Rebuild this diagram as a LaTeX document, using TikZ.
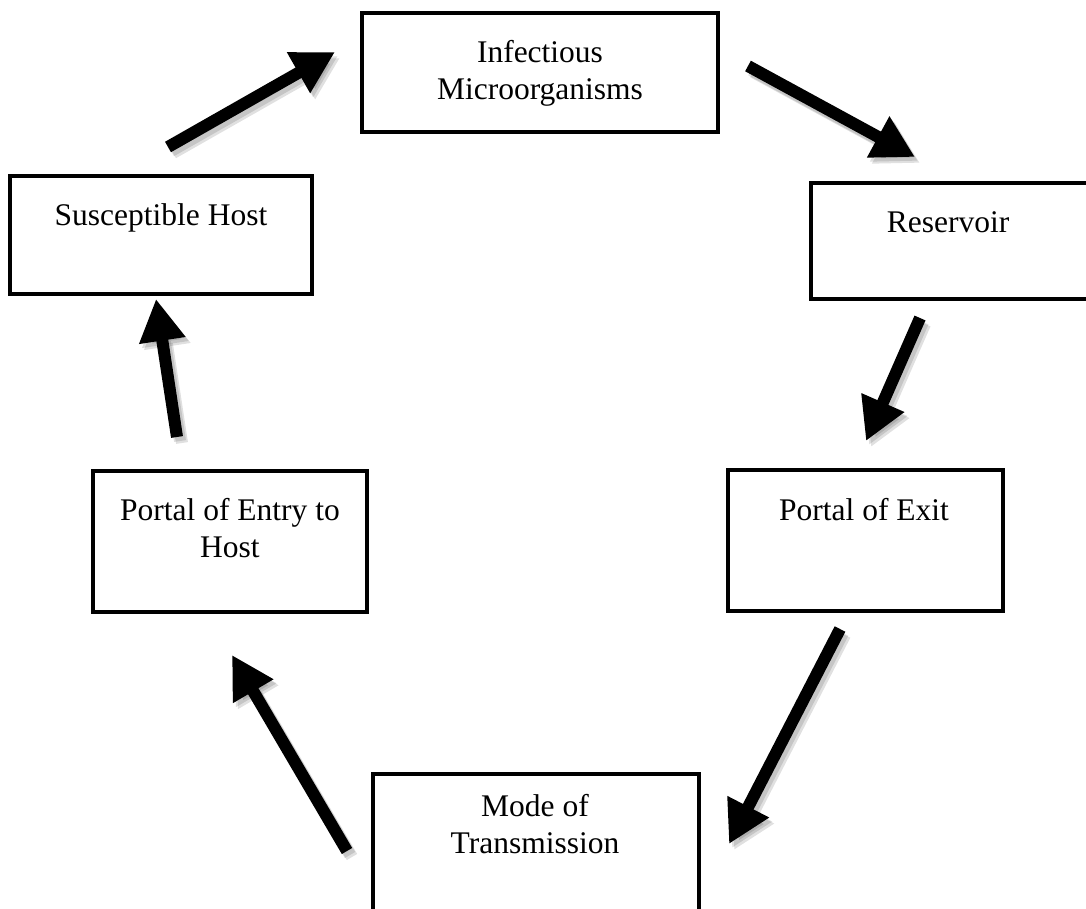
\documentclass[tikz,border=0pt]{standalone}
\usepackage{fontspec}
\setmainfont{Liberation Serif}
\usetikzlibrary{arrows.meta}
\tikzset{
  box/.style={draw=black, line width=3.5pt, fill=white, rectangle, inner sep=0pt},
  txt/.style={font=\fontsize{31.5}{37}\selectfont, align=center, inner sep=0pt, anchor=base},
  flow/.style={line width=12pt, -{Triangle[length=42pt,width=44pt]}},
  flowshadow/.style={line width=12pt, -{Triangle[length=42pt,width=44pt]}, draw=black, opacity=0.12}
}
\begin{document}
\begin{tikzpicture}[x=1pt,y=-1pt]
\useasboundingbox (0,0) rectangle (1086,909);
% boxes
\node[box, minimum width=356pt, minimum height=119pt] (inf) at (540,72.5) {};
\node[box, minimum width=284pt, minimum height=116pt] (res) at (953,241) {};
\node[box, minimum width=275pt, minimum height=141pt] (exit) at (865.5,540.5) {};
\node[box, minimum width=326pt, minimum height=156pt] (mode) at (536,852) {};
\node[box, minimum width=274pt, minimum height=141pt] (entry) at (230,541.5) {};
\node[box, minimum width=302pt, minimum height=118pt] (sus) at (161,235) {};
% texts (base = baseline of the last line)
\node[txt] (inft) at (540,100) {Infectious\\Microorganisms};
\node[txt] (rest) at (948,233) {Reservoir};
\node[txt] (exitt) at (864,520) {Portal of Exit};
\node[txt] (modet) at (535,853) {Mode of\\Transmission};
\node[txt] (entryt) at (230,557) {Portal of Entry to\\Host};
\node[txt] (sust) at (161,226) {Susceptible Host};
% arrow end points
\coordinate (a1s) at (168,147); \coordinate (a1e) at (335,52);
\coordinate (a2s) at (748,66);  \coordinate (a2e) at (915,157);
\coordinate (a3s) at (920,318); \coordinate (a3e) at (866,441);
\coordinate (a4s) at (840,629); \coordinate (a4e) at (729,844);
\coordinate (a5s) at (347,851); \coordinate (a5e) at (232,655);
\coordinate (a6s) at (177,437); \coordinate (a6e) at (156,299);
% shadows
\foreach \s/\e in {a1s/a1e,a2s/a2e,a3s/a3e,a4s/a4e,a5s/a5e,a6s/a6e}{
  \draw[flowshadow] ([shift={(3,4)}]\s) -- ([shift={(3,4)}]\e);
  \draw[flowshadow] ([shift={(5,6)}]\s) -- ([shift={(5,6)}]\e);
}
% arrows
\draw[flow] (a1s) -- (a1e);
\draw[flow] (a2s) -- (a2e);
\draw[flow] (a3s) -- (a3e);
\draw[flow] (a4s) -- (a4e);
\draw[flow] (a5s) -- (a5e);
\draw[flow] (a6s) -- (a6e);
\end{tikzpicture}
\end{document}
